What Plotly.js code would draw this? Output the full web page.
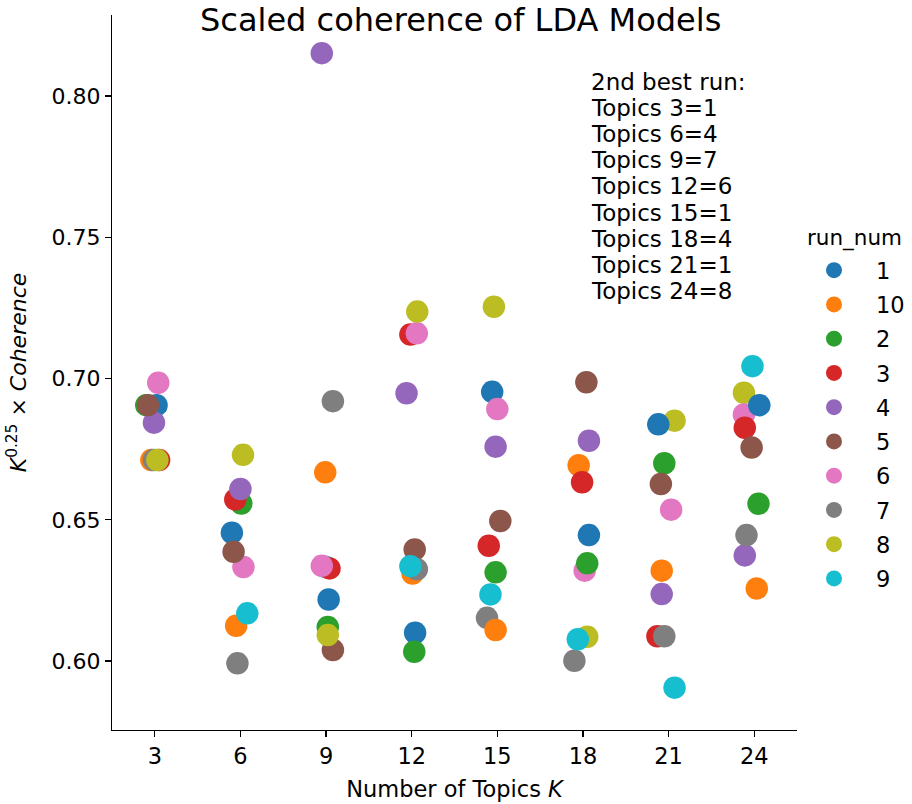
<!DOCTYPE html>
<html>
<head>
<meta charset="utf-8">
<script src="https://cdn.plot.ly/plotly-3.0.1.min.js"></script>
<style>html,body{margin:0;padding:0;background:#fff;}#chart{width:912px;height:804px;}</style>
</head>
<body>
<div id="chart"></div>
<script>
// ---- data ----
const topics = [3, 6, 9, 12, 15, 18, 21, 24];
const tickLabels = ['3', '6', '9', '12', '15', '18', '21', '24'];
const runs = ['1', '10', '2', '3', '4', '5', '6', '7', '8', '9'];
const colors = ['#1f77b4', '#ff7f0e', '#2ca02c', '#d62728', '#9467bd', '#8c564b', '#e377c2', '#7f7f7f', '#bcbd22', '#17becf'];

// scaled coherence per run, one value per topic count
const run1  = [0.6906, 0.6454, 0.6218, 0.6100, 0.6953, 0.6446, 0.6838, 0.6906];
const run10 = [0.6712, 0.6125, 0.6668, 0.6310, 0.6110, 0.6693, 0.6320, 0.6257];
const run2  = [0.6906, 0.6558, 0.6121, 0.6033, 0.6314, 0.6346, 0.6700, 0.6557];
const run3  = [0.6712, 0.6572, 0.6328, 0.7156, 0.6408, 0.6633, 0.6088, 0.6826];
const run4  = [0.6844, 0.6609, 0.8152, 0.6948, 0.6759, 0.6780, 0.6237, 0.6374];
const run5  = [0.6906, 0.6387, 0.6039, 0.6395, 0.6496, 0.6987, 0.6627, 0.6756];
const run6  = [0.6985, 0.6333, 0.6337, 0.7160, 0.6892, 0.6320, 0.6536, 0.6873];
const run7  = [0.6712, 0.5992, 0.6920, 0.6325, 0.6153, 0.6001, 0.6088, 0.6446];
const run8  = [0.6712, 0.6730, 0.6092, 0.7237, 0.7254, 0.6086, 0.6851, 0.6950];
const run9  = [null,   0.6169, 0.6334, 0.6336, 0.6236, 0.6077, 0.5906, 0.7044];

// strip-plot jitter (in category units) as seen in the reference
const jitter1  = [0.02, -0.10, 0.03, 0.04, -0.06, 0.07, -0.12, 0.06];
const jitter10 = [-0.04, -0.05, -0.01, 0.01, -0.02, -0.05, -0.08, 0.03];
const jitter2  = [-0.10, 0.01, 0.02, 0.03, -0.02, 0.05, -0.05, 0.05];
const jitter3  = [0.05, -0.06, 0.04, -0.015, -0.10, -0.01, -0.13, -0.11];
const jitter4  = [-0.01, 0.00, -0.05, -0.06, -0.02, 0.07, -0.08, -0.11];
const jitter5  = [-0.08, -0.08, 0.08, 0.035, 0.035, 0.04, -0.09, -0.03];
const jitter6  = [0.04, 0.035, -0.05, 0.06, 0.00, 0.02, 0.03, -0.12];
const jitter7  = [-0.01, -0.035, 0.08, 0.06, -0.12, -0.10, -0.05, -0.09];
const jitter8  = [0.03, 0.03, 0.02, 0.065, -0.04, 0.05, 0.07, -0.12];
const jitter9  = [0.00, 0.08, -0.01, -0.015, -0.08, -0.06, 0.07, -0.02];

// points that lie underneath others in the reference: [run, topic]
const lowered = [['7', 15], ['6', 18], ['8', 21], ['8', 24], ['6', 24], ['6', 6], ['9', 9]];

const noteLines = ['2nd best run:', 'Topics 3=1', 'Topics 6=4', 'Topics 9=7', 'Topics 12=6',
                   'Topics 15=1', 'Topics 18=4', 'Topics 21=1', 'Topics 24=8'];

// ---- build traces ----
const values = [run1, run10, run2, run3, run4, run5, run6, run7, run8, run9];
const jitters = [jitter1, jitter10, jitter2, jitter3, jitter4, jitter5, jitter6, jitter7, jitter8, jitter9];
const MS = 22.5;
const FONT = 'DejaVu Sans, sans-serif';
const FS = 22.5;

// geometry: paper spans x 112..907, plot area x 112..797
const L = 112, R = 5, PW = 912 - L - R, PLOTW = 685, T = 15, PH = 715;
const px = v => (v - L) / PW;
const py = v => 1 - (v - T) / PH;

const under = {type: 'scatter', mode: 'markers', x: [], y: [], showlegend: false, hoverinfo: 'skip',
  marker: {size: MS, color: [], line: {width: 0}}};
lowered.forEach(([r, t]) => {
  const ri = runs.indexOf(r), ti = topics.indexOf(t);
  under.x.push(ti + jitters[ri][ti]);
  under.y.push(values[ri][ti]);
  under.marker.color.push(colors[ri]);
});
const isLowered = (r, t) => lowered.some(p => p[0] === r && p[1] === t);

const traces = [under];
runs.forEach((r, ri) => {
  const xs = [], ys = [];
  topics.forEach((t, ti) => {
    if (isLowered(r, t)) { xs.push(null); ys.push(null); return; }
    xs.push(ti + jitters[ri][ti]);
    ys.push(values[ri][ti]);
  });
  traces.push({type: 'scatter', mode: 'markers', name: r, x: xs, y: ys,
    legendgroup: 'g' + r,
    marker: {size: MS, color: colors[ri], line: {width: 0}}});
});

const annotations = [{
  text: 'Scaled coherence of LDA Models', xref: 'paper', yref: 'paper', x: px(460), y: 1.0,
  xanchor: 'center', yanchor: 'middle', showarrow: false, yshift: -5,
  font: {family: FONT, size: 32, color: '#000'}
}, {
  // legend title
  text: 'run_num', xref: 'paper', yref: 'paper', x: px(808), y: py(238),
  xanchor: 'left', yanchor: 'middle', xshift: -3, showarrow: false,
  font: {family: FONT, size: 21.5, color: '#000'}
}];
noteLines.forEach((s, i) => {
  annotations.push({text: s, xref: 'paper', yref: 'paper', x: px(592), y: 1, yanchor: 'middle',
    xanchor: 'left', xshift: -3, yshift: -(82 - 15) - i * 26.1, showarrow: false,
    font: {family: FONT, size: 23, color: '#000'}});
});

const layout = {
  width: 912, height: 804,
  margin: {l: L, r: R, t: T, b: 74, pad: 0, autoexpand: false},
  paper_bgcolor: '#fff', plot_bgcolor: '#fff',
  font: {family: FONT, size: FS, color: '#000'},
  showlegend: true,
  xaxis: {
    domain: [0, PLOTW / PW],
    range: [-0.5, 7.5], tickvals: topics.map((t, i) => i), ticktext: tickLabels,
    showgrid: false, zeroline: false, showline: true, linecolor: '#000', linewidth: 1.2,
    ticks: 'outside', ticklen: 6, tickwidth: 1.2, tickcolor: '#000',
    tickfont: {family: FONT, size: FS},
    title: {text: 'Number of Topics <i>K</i>', font: {family: FONT, size: FS}, standoff: 13}
  },
  yaxis: {
    range: [0.5756, 0.8287], tickvals: [0.60, 0.65, 0.70, 0.75, 0.80], tickformat: '.2f',
    showgrid: false, zeroline: false, showline: true, linecolor: '#000', linewidth: 1.2,
    ticks: 'outside', ticklen: 6, tickwidth: 1.2, tickcolor: '#000',
    tickfont: {family: FONT, size: 22},
    title: {text: '<i>K</i><sup>0.25</sup> × <i>Coherence</i>', font: {family: FONT, size: 22}, standoff: 18}
  },
  legend: {
    x: px(792), xanchor: 'left', y: py(249), yanchor: 'top',
    font: {family: FONT, size: FS}, tracegroupgap: 2, itemwidth: 74,
    bgcolor: 'rgba(0,0,0,0)', borderwidth: 0
  },
  annotations: annotations
};

Plotly.newPlot('chart', traces, layout, {displayModeBar: false, staticPlot: true});
</script>
</body>
</html>
